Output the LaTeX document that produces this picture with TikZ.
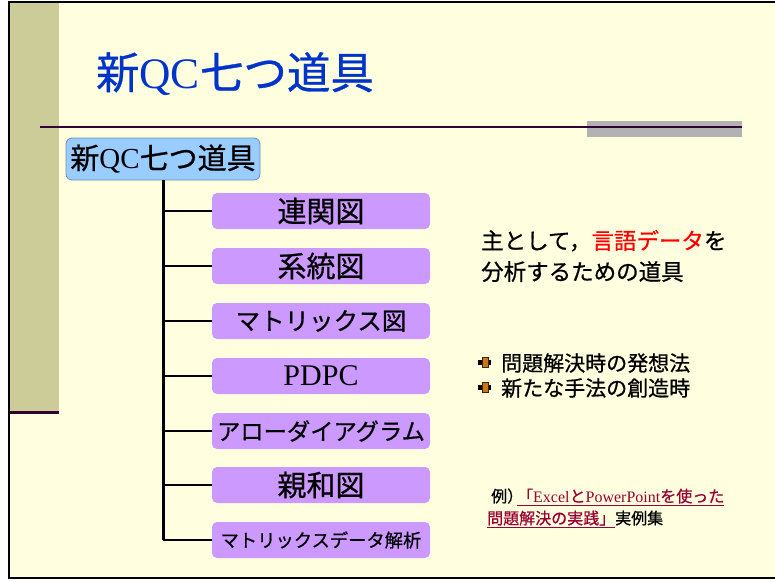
\documentclass[tikz,border=0pt]{standalone}
\usepackage{fontspec}
\setmainfont{Noto Sans CJK JP}[FakeBold=0.7]
\newfontfamily\tm{Liberation Serif}
\definecolor{slidebg}{HTML}{FFFFE0}
\definecolor{olive}{HTML}{CCCC99}
\definecolor{purp}{HTML}{330033}
\definecolor{titleblue}{HTML}{0033CC}
\definecolor{rootfill}{HTML}{99CCFF}
\definecolor{rootdraw}{HTML}{6F8FB5}
\definecolor{violetfill}{HTML}{CC99FF}
\definecolor{barGray}{HTML}{B2B2B2}
\definecolor{linkred}{HTML}{990033}
\definecolor{bulletorange}{HTML}{CC7711}
\tikzset{
  rootbox/.style={draw=rootdraw, line width=0.8pt, fill=rootfill, rounded corners=6pt,
    minimum width=194pt, minimum height=42pt, inner sep=0pt},
  itembox/.style={fill=violetfill, rounded corners=5pt, minimum width=218pt,
    minimum height=36pt, inner sep=0pt},
  trunk/.style={line width=3pt, black},
  branch/.style={line width=2.5pt, black},
  bulletbar/.style={fill=black},
  bulletsq/.style={fill=bulletorange, draw=black!70!bulletorange, line width=0.6pt}
}
\begin{document}
\begin{tikzpicture}[x=1pt,y=-1pt]
\useasboundingbox (0,0) rectangle (775,581);
\fill[white] (0,0) rectangle (775,581);
% slide
\fill[slidebg] (9,2) rectangle (775,578);
\fill[olive] (10,3) rectangle (59,411);
\draw[purp, line width=3pt] (8,412) -- (59,412);
\draw[black, line width=2.6pt] (775,2) -- (9,2) -- (9,578) -- (775,578);
% title
\node[font=\fontsize{43.5}{46}\selectfont, text=titleblue, inner sep=0pt] (title) at (235,74) {新{\tm QC}七つ道具};
\fill[barGray] (587,121) rectangle (742,137);
\draw[purp, line width=2pt] (40,127) -- (742,127);
% tree
\node[rootbox, font=\fontsize{29}{32}\selectfont] (root) at (163,159) {新{\tm QC}七つ道具};
\node[itembox, font=\fontsize{29}{30}\selectfont] (b1) at (321,211) {連関図};
\node[itembox, font=\fontsize{29}{30}\selectfont] (b2) at (321,266) {系統図};
\node[itembox, font=\fontsize{24.5}{28}\selectfont] (b3) at (321,321) {マトリックス図};
\node[itembox, font=\fontsize{30}{32}\selectfont\tm] (b4) at (321,376) {PDPC};
\node[itembox, font=\fontsize{23.3}{26}\selectfont] (b5) at (321,431) {アローダイアグラム};
\node[itembox, font=\fontsize{29}{30}\selectfont] (b6) at (321,485) {親和図};
\node[itembox, font=\fontsize{18.3}{22}\selectfont] (b7) at (321,540) {マトリックスデータ解析};
\draw[trunk] (root.south) -- (root.south |- b7.west);
\foreach \i in {1,...,7} {
  \draw[branch] (b\i.west) -- (root.south |- b\i.west);
}
% description
\node[anchor=west, align=left, inner sep=0pt, font=\fontsize{22.5}{31}\selectfont] (desc) at (481,256)
  {主として，{\color{red}言語データ}を\\分析するための道具};
% bullets
\fill[bulletbar] (478,360) rectangle (491,365);
\filldraw[bulletsq] (482,357.5) rectangle (488,367);
\fill[bulletbar] (478,385) rectangle (491,390);
\filldraw[bulletsq] (482,382.5) rectangle (488,392);
\node[anchor=west, inner sep=0pt, font=\fontsize{21}{24}\selectfont] (p1) at (501,363) {問題解決時の発想法};
\node[anchor=west, inner sep=0pt, font=\fontsize{21}{24}\selectfont] (p2) at (501,388) {新たな手法の創造時};
% example
\node[anchor=west, align=left, inner sep=0pt, font=\fontsize{16}{22}\selectfont] (ex) at (487,508)
  {\hspace{4pt}例）\hspace{-6pt}{\color{linkred}\underline{「{\tm Excel}と{\tm PowerPoint}を使った}}\\
   {\color{linkred}\underline{問題解決の実践」}}実例集};
\end{tikzpicture}
\end{document}
